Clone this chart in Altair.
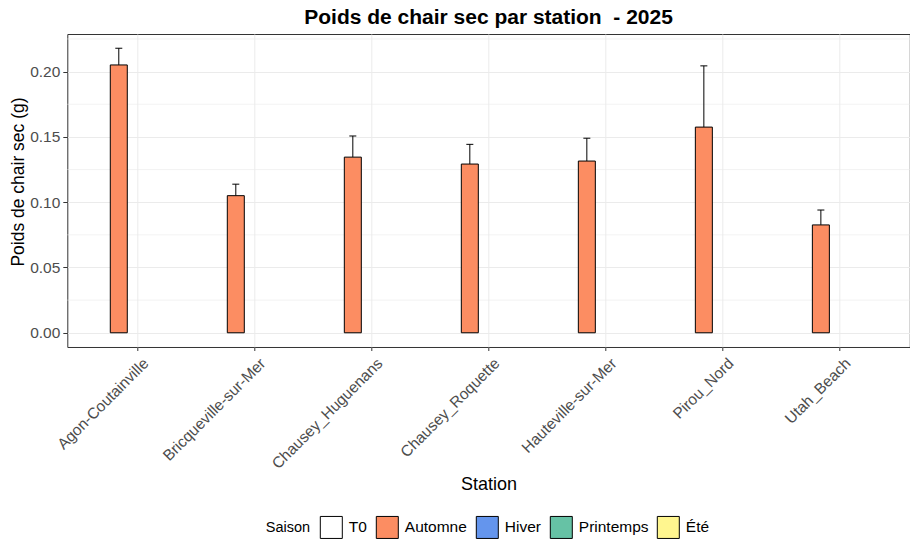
import altair as alt
import pandas as pd

# ---- data ----
stations = ["Agon-Coutainville", "Bricqueville-sur-Mer", "Chausey_Huguenans",
            "Chausey_Roquette", "Hauteville-sur-Mer", "Pirou_Nord", "Utah_Beach"]
saison_obs = ["Automne"] * 7
poids = [0.2051, 0.1050, 0.1345, 0.1292, 0.1315, 0.1575, 0.0826]
poids_haut = [0.2179, 0.1138, 0.1507, 0.1443, 0.1490, 0.2044, 0.0940]

saisons = ["T0", "Automne", "Hiver", "Printemps", "Été"]
couleurs = ["#FFFFFF", "#FC8D62", "#6495ED", "#66C2A5", "#FFF68F"]

y_major = [0.0, 0.05, 0.10, 0.15, 0.20]
y_minor = [0.025, 0.075, 0.125, 0.175, 0.225]
y_domain = [-0.0109, 0.2288]

df = pd.DataFrame({"Station": stations, "Saison": saison_obs,
                   "Poids": poids, "Haut": poids_haut})
df_minor = pd.DataFrame({"Poids": y_minor})

FONT = "Liberation Sans"

y_scale = alt.Scale(domain=y_domain, nice=False, zero=False)
y_axis = alt.Axis(values=y_major, format=".2f", grid=True, gridColor="#EBEBEB",
                  gridWidth=1, tickSize=4.5, tickColor="#333333", domain=False,
                  labelFontSize=15.5, labelColor="#4D4D4D", labelPadding=3,
                  labelFont=FONT, titleFont=FONT, titleFontSize=17.5,
                  titleFontWeight="normal", titleColor="black",
                  titleX=-44, titleY=147.5, titleAngle=-90,
                  titleAlign="center", titleBaseline="alphabetic")
y_title = "Poids de chair sec (g)"

x_enc = alt.X("Station:N", sort=stations,
              scale=alt.Scale(domain=stations, paddingInner=0.2, paddingOuter=0.2),
              title="Station",
              axis=alt.Axis(labelAngle=-45, labelAlign="right", labelBaseline="top",
                            labelFontSize=15.5, labelColor="#4D4D4D", labelFont=FONT,
                            labelPadding=5, labelOffset=3.5, tickSize=3.5,
                            tickColor="#333333",
                            grid=True, gridColor="#EBEBEB", gridWidth=1, domain=False,
                            titleFont=FONT, titleFontSize=18, titleFontWeight="normal",
                            titleColor="black", titleY=142.7, titleBaseline="alphabetic"))
xoff_enc = alt.XOffset("Saison:N", scale=alt.Scale(domain=saisons, paddingInner=0,
                                                     paddingOuter=0))

minor = alt.Chart(df_minor).mark_rule(color="#EBEBEB", strokeWidth=0.6).encode(
    y=alt.Y("Poids:Q", scale=y_scale, axis=y_axis, title=y_title)
)

bars = alt.Chart(df).mark_bar(width=17, stroke="black", strokeWidth=1).encode(
    x=x_enc,
    xOffset=xoff_enc,
    y=alt.Y("Poids:Q", scale=y_scale, axis=y_axis, title=y_title),
    fill=alt.Fill("Saison:N", scale=alt.Scale(domain=saisons, range=couleurs),
                  legend=alt.Legend(title="Saison", orient="none", direction="horizontal",
                                    legendX=198.5, legendY=481.7, padding=0,
                                    titleOrient="left", titleFontSize=14.5,
                                    titleFont=FONT, titleFontWeight="normal",
                                    titleColor="black", titlePadding=9,
                                    titleBaseline="middle",
                                    labelFontSize=15.5, labelFont=FONT, labelColor="black",
                                    labelOffset=6, columnPadding=6,
                                    symbolType="square", symbolSize=484,
                                    symbolStrokeColor="black", symbolStrokeWidth=1,
                                    symbolOpacity=1))
)

err = alt.Chart(df).mark_rule(color="black", strokeWidth=1).encode(
    x=x_enc,
    xOffset=xoff_enc,
    y=alt.Y("Poids:Q", scale=y_scale, axis=y_axis, title=y_title),
    y2="Haut:Q",
)

caps = alt.Chart(df).mark_tick(color="black", size=7, thickness=1, opacity=1).encode(
    x=x_enc,
    xOffset=xoff_enc,
    y=alt.Y("Haut:Q", scale=y_scale, axis=y_axis, title=y_title),
)

chart = alt.layer(minor, err, bars, caps).properties(
    width=842.5, height=313,
    title=alt.Title("Poids de chair sec par station\u00a0 - 2025", fontSize=21,
                    fontWeight="bold", font=FONT, color="black", anchor="middle",
                    offset=6),
    autosize=alt.AutoSizeParams(type="none"),
    padding={"left": 59.3, "top": 26, "right": 0, "bottom": 196},
    background="white",
).configure_view(stroke="#333333", strokeWidth=1)

chart.save("out.html", embed_options={"renderer": "svg", "actions": False})
